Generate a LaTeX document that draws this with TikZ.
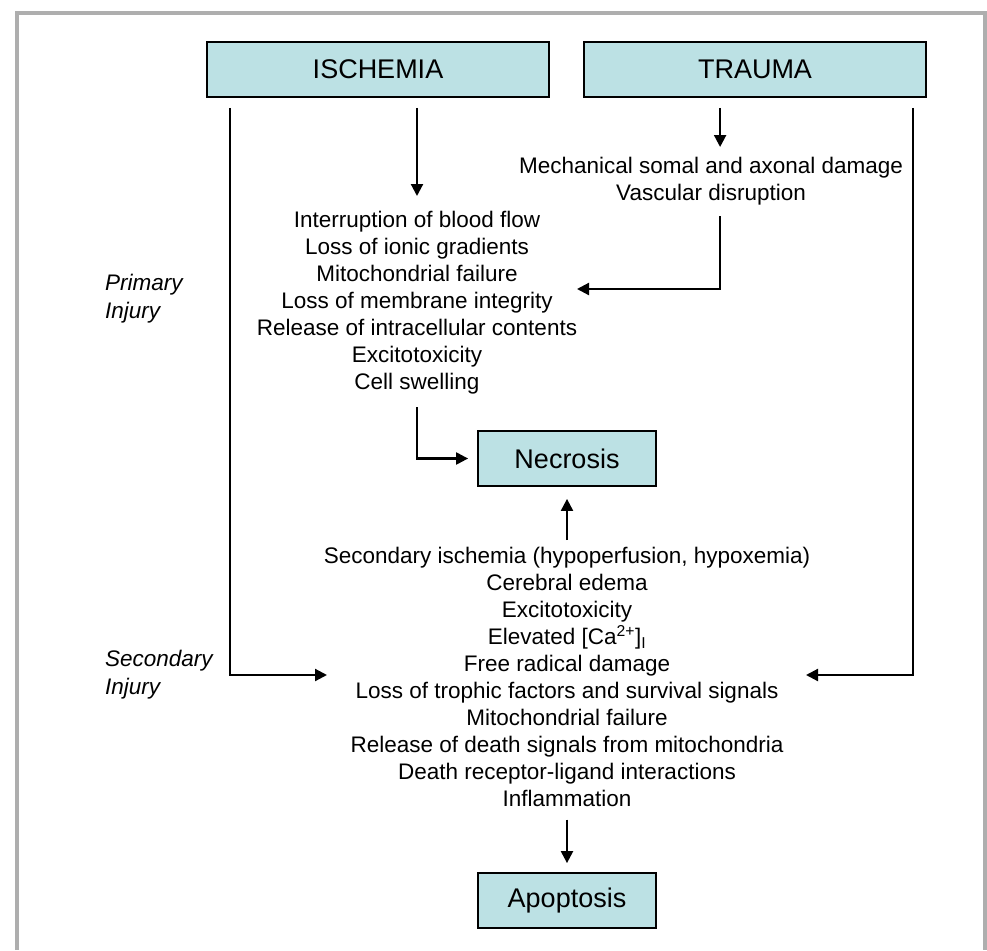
\documentclass[tikz,border=0pt]{standalone}
\usepackage{fontspec}
\setmainfont{Liberation Sans}
\usetikzlibrary{calc, arrows.meta}

\definecolor{boxfill}{HTML}{BCE1E4}
\definecolor{framegray}{HTML}{AEAEAE}

\tikzset{
  cause/.style={draw=black, line width=1.8pt, fill=boxfill, minimum width=342pt,
    minimum height=55pt, inner sep=0pt, font=\fontsize{27}{30}\selectfont},
  outcome/.style={cause, minimum width=178pt},
  events/.style={align=center, inner sep=0pt, anchor=north, font=\fontsize{22.5}{27}\selectfont},
  phase/.style={align=left, inner sep=0pt, anchor=north west, font=\fontsize{22.5}{28}\selectfont\itshape},
}

\begin{document}
\begin{tikzpicture}[x=1pt,y=-1pt,line width=2.2pt,>={Triangle[length=12pt,width=12pt]}]
\useasboundingbox (0,0) rectangle (987,950);
% grey frame, open at the bottom
\draw [framegray,line width=4pt] (17,950) -- (17,13) -- (985,13) -- (985,950);

\node [cause] (isch)   at (378,69.5) {ISCHEMIA};
\node [cause] (trauma) at (755,69.5) {TRAUMA};

\node [events] (trlist) at (711,156) {Mechanical somal and axonal damage\\Vascular disruption};
\node [events] (isclist) at (417,210) {Interruption of blood flow\\
  Loss of ionic gradients\\
  Mitochondrial failure\\
  Loss of membrane integrity\\
  Release of intracellular contents\\
  Excitotoxicity\\
  Cell swelling};

\node [outcome] (necrosis) at (567,458.5) {Necrosis};

\node [events] (seclist) at (567,546) {Secondary ischemia (hypoperfusion, hypoxemia)\\
  Cerebral edema\\
  Excitotoxicity\\
  Elevated [Ca\textsuperscript{2+}]\textsubscript{I}\\
  Free radical damage\\
  Loss of trophic factors and survival signals\\
  Mitochondrial failure\\
  Release of death signals from mitochondria\\
  Death receptor-ligand interactions\\
  Inflammation};

\node [outcome] (apoptosis) at (567,900.5) {Apoptosis};

\node [phase] (primary)   at (104,273) {Primary\\Injury};
\node [phase] (secondary) at (104,649) {Secondary\\Injury};

% start and end points of the side connectors
\coordinate (isleft)  at ($ (isch.south west) + (24,10) $);
\coordinate (ismid)   at (isclist.north |- isleft);
\coordinate (trright) at ($ (trauma.south east) + (-14,10) $);
\coordinate (trmid)   at ($ (trauma.south west) + (137,10) $);
\coordinate (primin)  at (577,289);
\coordinate (secinl)  at (327,675);
\coordinate (secinr)  at (806,675);

\draw [->,shorten >=14pt] (ismid) -- (isclist.north);
\draw [->,shorten >=9pt] (trmid) -- (trmid |- trlist.north);
\draw [->,shorten <=10pt] (trmid |- trlist.south) |- (primin);
\draw [->,shorten <=12pt,shorten >=9pt] (isclist.south) |- (necrosis.west);
\draw [->,shorten <=6pt,shorten >=12pt] (seclist.north) -- (necrosis.south);
\draw [->] (isleft) |- (secinl);
\draw [->] (trright) |- (secinr);
\draw [->,shorten <=12pt,shorten >=9pt] (seclist.south) -- (apoptosis.north);
\end{tikzpicture}
\end{document}
